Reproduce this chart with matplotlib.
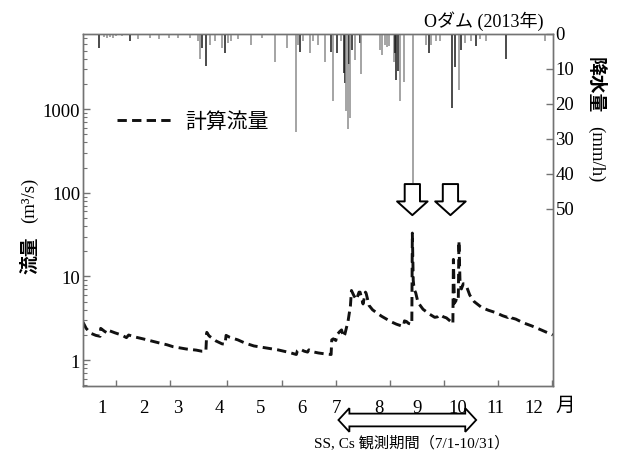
import matplotlib
matplotlib.use("Agg")
import matplotlib.pyplot as plt
from matplotlib.patches import Polygon
from matplotlib.transforms import blended_transform_factory
from matplotlib.ticker import FixedLocator, NullFormatter, LogLocator

SERIF = ['Liberation Serif', 'Noto Sans CJK JP']
GOTHIC = ['Noto Sans CJK JP', 'DejaVu Sans']

# computed discharge (m3/s), day of year 2013
flow_day = [0.0, 2.5, 6.0, 10.0, 13.3, 13.8, 17.0, 19.4, 20.5, 25.0, 30.0, 33.8, 35.5,
            40.0, 46.6, 53.0, 59.8, 65.2, 70.0, 80.4, 88.0, 92.4, 95.5, 96.2, 98.0,
            103.3, 108.0, 110.4, 111.2, 114.0, 120.3, 126.0, 132.8, 140.0, 151.4,
            160.0, 165.8, 166.6, 168.5, 172.0, 174.5, 175.5, 178.5, 183.0, 188.0,
            192.8, 193.3, 194.5, 196.5, 197.2, 199.5, 200.9, 202.5, 203.5, 206.0,
            207.8, 208.6, 210.5, 212.5, 214.5, 215.3, 217.6, 219.5, 220.0, 222.3,
            225.0, 228.0, 232.0, 235.8, 240.0, 243.6, 247.4, 249.0, 249.8, 251.3,
            253.0, 255.5, 255.9, 256.6, 257.3, 258.5, 260.3, 264.2, 269.4, 273.3,
            275.5, 277.2, 280.0, 282.4, 286.3, 287.4, 287.8, 288.6, 290.0, 291.6,
            292.1, 293.0, 294.0, 295.5, 297.9, 300.5, 304.0, 309.8, 315.0, 320.7,
            326.0, 330.0, 331.0, 333.0, 336.2, 342.0, 348.6, 356.0, 365.0]
flow_val = [2.85, 2.4, 2.1, 1.98, 1.93, 2.4, 2.2, 2.1, 2.25, 2.12, 2.0, 1.86, 2.0,
            1.9, 1.8, 1.7, 1.6, 1.53, 1.45, 1.36, 1.32, 1.28, 1.28, 2.15, 1.95,
            1.7, 1.57, 1.55, 1.98, 1.88, 1.75, 1.6, 1.48, 1.42, 1.33,
            1.24, 1.17, 1.3, 1.36, 1.28, 1.25, 1.33, 1.26, 1.22, 1.19,
            1.17, 1.75, 1.8, 1.72, 2.0, 2.2, 2.3, 1.9, 2.05, 2.95,
            4.45, 6.8, 5.9, 5.3, 6.5, 6.5, 4.7, 6.5, 6.3, 4.5,
            4.0, 3.7, 3.35, 3.1, 2.85, 2.69, 2.57, 2.55, 2.95, 2.9,
            2.75, 2.68, 33.0, 9.0, 7.0, 6.4, 4.9, 4.06, 3.54, 3.25,
            3.3, 3.5, 3.3, 3.2, 2.85, 2.72, 16.0, 4.8, 5.2, 5.0,
            26.6, 8.0, 7.1, 8.2, 7.7, 6.0, 5.0, 4.26, 3.95, 3.7,
            3.4, 3.24, 3.4, 3.2, 3.1, 2.8, 2.57, 2.3, 2.0]

# hourly rainfall (mm/h)
rain_day = [12.4, 16.3, 18.6, 21.0, 23.3, 25.6, 30.3, 36.5, 42.7, 52.0, 59.0, 66.8,
            73.8, 83.1, 89.3, 90.8, 92.4, 95.5, 98.6, 102.5, 107.9, 110.2, 112.6,
            114.9, 120.3, 130.4, 139.0, 149.1, 158.4, 165.4, 166.9, 168.9, 170.8,
            176.2, 178.6, 182.8, 187.9, 192.9, 193.9, 197.2, 200.7, 202.6, 203.8,
            204.7, 205.7, 206.8, 207.8, 209.4, 211.2, 215.1, 215.8, 230.6, 232.7,
            234.5, 236.3, 237.6, 241.5, 242.2, 243.2, 244.8, 246.7, 249.2, 256.2,
            266.9, 268.6, 270.7, 274.6, 277.2, 287.0, 288.8, 292.2, 294.0, 296.6,
            301.8, 305.1, 308.2, 313.4, 328.4, 358.7]
rain_mm = [4.0, 0.8, 1.0, 0.7, 1.0, 0.6, 0.6, 2.0, 1.5, 1.0, 1.5, 1.0,
           1.0, 1.0, 2.0, 7.0, 4.0, 9.0, 3.0, 2.0, 4.0, 5.5, 2.5,
           2.0, 1.5, 3.0, 1.0, 8.0, 4.0, 28.0, 3.0, 5.0, 2.0,
           5.5, 2.0, 3.0, 8.0, 5.0, 19.0, 5.5, 2.0, 11.0, 14.0,
           22.0, 27.0, 8.5, 24.0, 4.5, 7.5, 2.5, 11.5, 4.5, 6.0,
           3.0, 3.8, 3.5, 8.0, 5.5, 13.0, 10.5, 19.0, 13.7, 42.5,
           3.0, 5.5, 3.0, 2.0, 2.0, 21.0, 9.5, 16.0, 4.5, 2.5,
           2.0, 3.5, 1.5, 2.0, 7.0, 2.0]
rain_dark = [1, 0, 0, 0, 0, 0, 0, 1, 0, 0, 0, 0,
             0, 0, 0, 0, 1, 1, 0, 0, 0, 1, 0,
             0, 0, 0, 0, 0, 0, 0, 0, 1, 0,
             0, 0, 0, 0, 1, 0, 1, 0, 1, 1,
             0, 0, 1, 0, 1, 0, 1, 0, 0, 0,
             0, 0, 0, 0, 1, 1, 1, 0, 0, 0,
             0, 1, 0, 0, 0, 1, 1, 0, 1, 0,
             0, 1, 0, 0, 1, 0]

month_labels = ['1', '2', '3', '4', '5', '6', '7', '8', '9', '10', '11', '12']
month_label_day = [14.8, 47.4, 73.8, 105.6, 138.2, 170.0, 197.2, 229.8, 259.3, 291.1, 320.7, 350.2]
x_tick_day = [25.6, 67.5, 111.8, 154.5, 196.4, 238.4, 280.3, 322.2, 364.1]
rain_ticks = [0, 10, 20, 30, 40, 50]
arrow_day = [255.9, 285.5]
period_day = (198.5, 305.5)

fig = plt.figure(figsize=(6.19, 4.56), dpi=100)
ax = fig.add_axes([0.134, 0.151, 0.759, 0.772])
ax2 = ax.twinx()

spine_col = '0.45'
for a in (ax, ax2):
    for s in a.spines.values():
        s.set_color(spine_col)
        s.set_linewidth(1.0)

# discharge
ax.plot(flow_day, flow_val, color='#111111', lw=2.1,
        linestyle=(0, (3.2, 1.8)), label='計算流量')
ax.set_yscale('log')
ax.set_ylim(0.49, 7850)
ax.set_xlim(0, 365)
ax.yaxis.set_major_locator(FixedLocator([1, 10, 100, 1000]))
ax.set_yticklabels(['1', '10', '100', '1000'])
ax.yaxis.set_minor_locator(LogLocator(base=10, subs=range(2, 10)))
ax.yaxis.set_minor_formatter(NullFormatter())
ax.tick_params(axis='y', which='major', direction='in', length=5, width=1,
               color=spine_col, pad=2, labelsize=13.5)
ax.tick_params(axis='y', which='minor', direction='in', length=3, width=0.8,
               color=spine_col)

ax.set_xticks(month_label_day)
ax.set_xticklabels(month_labels)
ax.set_xticks(x_tick_day, minor=True)
ax.tick_params(axis='x', which='major', length=0, pad=9, labelsize=13.5)
ax.tick_params(axis='x', which='minor', direction='in', length=4, width=1,
               color=spine_col)
for lab in ax.get_xticklabels() + ax.get_yticklabels():
    lab.set_family(SERIF)

# rainfall hanging from the top
cols = ['#1a1a1a' if d else '#8c8c8c' for d in rain_dark]
ax2.vlines(rain_day, 0, rain_mm, colors=cols, lw=1.1)
ax2.set_ylim(100.6, 0)
ax2.set_yticks(rain_ticks)
ax2.tick_params(axis='y', direction='in', length=5, width=1, color=spine_col,
                pad=2, labelsize=13.5)
for lab in ax2.get_yticklabels():
    lab.set_family(SERIF)
    lab.set_verticalalignment('center')

# legend
leg = ax.legend(loc='center left', bbox_to_anchor=(0.072, 0.753), frameon=False,
                handlelength=2.8, handletextpad=0.5, borderpad=0, borderaxespad=0,
                prop={'family': GOTHIC, 'size': 15})

# axis titles: bold kanji, plain serif units
fig.text(0.048, 1 - 255 / 456, '流量', rotation=90, ha='center', va='center',
         fontsize=13.5, family=GOTHIC, fontweight='bold')
fig.text(0.048, 1 - 200 / 456, '(m³/s)', rotation=90, ha='center', va='center',
         fontsize=13.5, family=SERIF)
fig.text(0.962, 1 - 85 / 456, '降水量', rotation=270, ha='center', va='center',
         fontsize=13.5, family=GOTHIC, fontweight='bold')
fig.text(0.962, 1 - 154 / 456, '(mm/h)', rotation=270, ha='center', va='center',
         fontsize=13.5, family=SERIF)
fig.text(0.878, 1 - 21 / 456, 'Oダム (2013年)', ha='right', va='center',
         fontsize=13, family=SERIF)
fig.text(0.913, 1 - 405 / 456, '月', ha='center', va='center', fontsize=14,
         family=GOTHIC)

# hollow arrows pointing at the two floods
for d in arrow_day:
    ax.annotate('', xy=(d, 54), xytext=(d, 127), xycoords='data',
                arrowprops=dict(arrowstyle='simple,head_length=0.45,head_width=1.0,tail_width=0.5',
                                mutation_scale=22, fc='white', ec='black', lw=1.4,
                                shrinkA=0, shrinkB=0))

# double-headed arrow for the sampling period
tr = blended_transform_factory(ax.transData, fig.transFigure)
x0, x1 = period_day
hl = 8.5
yc = 1 - 421 / 456
hh, sh = 0.026, 0.014
pts = [(x0, yc), (x0 + hl, yc + hh), (x0 + hl, yc + sh), (x1 - hl, yc + sh),
       (x1 - hl, yc + hh), (x1, yc), (x1 - hl, yc - hh), (x1 - hl, yc - sh),
       (x0 + hl, yc - sh), (x0 + hl, yc - hh)]
fig.patches.append(Polygon(pts, closed=True, fc='white', ec='black', lw=1.3,
                           transform=tr, clip_on=False))
fig.text(412 / 619, 1 - 443 / 456, 'SS, Cs 観測期間（7/1-10/31）', ha='center',
         va='center', fontsize=11, family=SERIF)

fig.savefig('out.png', dpi=100)
